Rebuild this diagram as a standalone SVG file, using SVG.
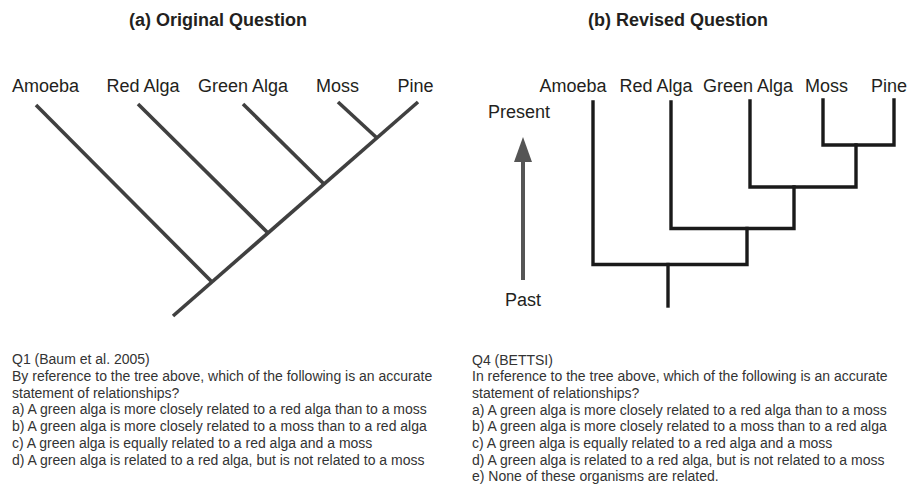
<svg xmlns="http://www.w3.org/2000/svg" width="907" height="485" viewBox="0 0 907 485">
<style>
text{font-family:"Liberation Sans",Arial,sans-serif;fill:#231f20}
.title{font-size:18px;font-weight:bold;text-anchor:middle}
.lbl{font-size:18px}
.q{font-size:14px;fill:#333}
.lt{stroke:#404040;stroke-width:3.6;fill:none}
.rt{stroke:#1a1a1a;stroke-width:3.4;fill:none;stroke-linejoin:miter;stroke-linecap:square}
</style>
<rect width="907" height="485" fill="#fff"/>
<text class="title" x="218" y="26">(a) Original Question</text>
<text class="title" x="678" y="26">(b) Revised Question</text>

<g id="left-taxa">
<g id="a-amoeba"><text class="lbl" x="12" y="92">Amoeba</text></g>
<g id="a-redalga"><text class="lbl" x="106.5" y="92">Red Alga</text></g>
<g id="a-greenalga"><text class="lbl" x="198" y="92">Green Alga</text></g>
<g id="a-moss"><text class="lbl" x="316" y="92">Moss</text></g>
<g id="a-pine"><text class="lbl" x="397.5" y="92">Pine</text></g>
</g>

<g id="left-connectors">
<line class="lt" x1="418" y1="102" x2="173" y2="316"/>
<line class="lt" x1="36" y1="105" x2="212" y2="282"/>
<line class="lt" x1="138" y1="104" x2="268" y2="233"/>
<line class="lt" x1="243" y1="104" x2="324" y2="184"/>
<line class="lt" x1="338" y1="102" x2="377" y2="138"/>
</g>

<g id="right-taxa">
<g id="b-amoeba"><text class="lbl" x="539.5" y="92">Amoeba</text></g>
<g id="b-redalga"><text class="lbl" x="619.5" y="92">Red Alga</text></g>
<g id="b-greenalga"><text class="lbl" x="703" y="92">Green Alga</text></g>
<g id="b-moss"><text class="lbl" x="805" y="92">Moss</text></g>
<g id="b-pine"><text class="lbl" x="871" y="92">Pine</text></g>
</g>

<g id="time-axis">
<text class="lbl" x="488" y="118">Present</text>
<text class="lbl" x="505" y="306">Past</text>
<line x1="523" y1="280" x2="523" y2="158" stroke="#555" stroke-width="4"/>
<polygon points="523,137 514,162 532,162" fill="#555"/>
</g>

<g id="right-connectors">
<polyline class="rt" points="593,102 593,264.5 747,264.5 747,228.5"/>
<polyline class="rt" points="671,102 671,228.5 794,228.5 794,187"/>
<polyline class="rt" points="750,101 750,187 856,187 856,145"/>
<polyline class="rt" points="823,100 823,145 894,145 894,100"/>
<line class="rt" x1="668" y1="264.5" x2="668" y2="306" stroke-linecap="butt"/>
</g>

<g id="q1">
<text class="q" x="12" y="364">Q1 (Baum et al. 2005)</text>
<text class="q" x="12" y="380.8">By reference to the tree above, which of the following is an accurate</text>
<text class="q" x="12" y="397.6">statement of relationships?</text>
<text class="q" x="12" y="414.4">a) A green alga is more closely related to a red alga than to a moss</text>
<text class="q" x="12" y="431.2">b) A green alga is more closely related to a moss than to a red alga</text>
<text class="q" x="12" y="448">c) A green alga is equally related to a red alga and a moss</text>
<text class="q" x="12" y="464.8">d) A green alga is related to a red alga, but is not related to a moss</text>
</g>

<g id="q4">
<text class="q" x="472" y="364.5">Q4 (BETTSI)</text>
<text class="q" x="472" y="381.2">In reference to the tree above, which of the following is an accurate</text>
<text class="q" x="472" y="397.9">statement of relationships?</text>
<text class="q" x="472" y="414.6">a) A green alga is more closely related to a red alga than to a moss</text>
<text class="q" x="472" y="431.3">b) A green alga is more closely related to a moss than to a red alga</text>
<text class="q" x="472" y="448">c) A green alga is equally related to a red alga and a moss</text>
<text class="q" x="472" y="464.7">d) A green alga is related to a red alga, but is not related to a moss</text>
<text class="q" x="472" y="481.4">e) None of these organisms are related.</text>
</g>
</svg>
